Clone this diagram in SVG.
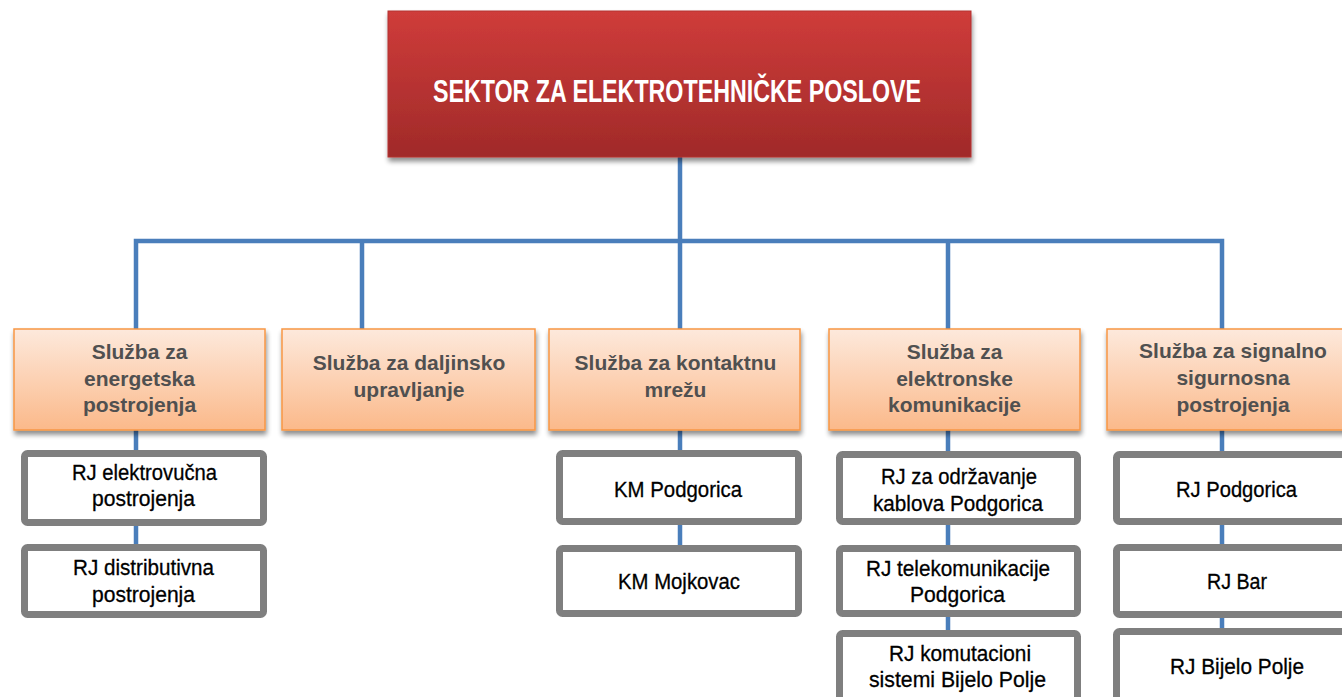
<svg xmlns="http://www.w3.org/2000/svg" width="1342" height="697" viewBox="0 0 1342 697">
<defs>
<linearGradient id="gRed" x1="0" y1="0" x2="0" y2="1">
<stop offset="0" stop-color="#cf3c3a"/>
<stop offset="1" stop-color="#a02a29"/>
</linearGradient>
<linearGradient id="gOr" x1="0" y1="0" x2="0" y2="1">
<stop offset="0" stop-color="#fde9dc"/>
<stop offset="1" stop-color="#fbb98a"/>
</linearGradient>
<filter id="sh" x="-5%" y="-10%" width="112%" height="130%">
<feGaussianBlur in="SourceAlpha" stdDeviation="2.5"/>
<feOffset dx="1" dy="4" result="b"/>
<feComponentTransfer><feFuncA type="linear" slope="0.45"/></feComponentTransfer>
<feMerge><feMergeNode/><feMergeNode in="SourceGraphic"/></feMerge>
</filter>
</defs>
<style>
.con{fill:none;stroke:#4a7ebb;stroke-width:4.5}
.top{fill:url(#gRed);stroke:#b33331;stroke-width:1}
.or{fill:url(#gOr);stroke:#f79646;stroke-width:1.5}
.gr{fill:#ffffff;stroke:#7f7f7f;stroke-width:7}
.tt{font-family:"Liberation Sans",Arial,sans-serif;font-weight:bold;font-size:31px;fill:#ffffff;text-anchor:middle}
.ot{font-family:"Liberation Sans",Arial,sans-serif;font-weight:bold;font-size:21px;fill:#505050;text-anchor:middle}
.gt{font-family:"Liberation Sans",Arial,sans-serif;font-size:22px;fill:#000000;text-anchor:middle;stroke:#000000;stroke-width:0.3}
</style>
<rect width="1342" height="697" fill="#ffffff"/>
<g id="connectors">
<path class="con" d="M680,157 V329 M136,329 V241 H1222 V329 M362,241 V329 M948,241 V329"/>
<path class="con" d="M136,430 V546 M680,430 V548 M948,430 V634 M1222,430 V632"/>
</g>
<g id="sektor">
<rect class="top" x="388" y="11" width="583" height="146" filter="url(#sh)"/>
<text class="tt" x="677" y="102" textLength="488" lengthAdjust="spacingAndGlyphs">SEKTOR ZA ELEKTROTEHNIČKE POSLOVE</text>
</g>
<g id="sluzba-energetska">
<rect class="or" x="14" y="329" width="251" height="101" filter="url(#sh)"/>
<text class="ot" x="139.5" y="358.5">Služba za</text>
<text class="ot" x="139.5" y="385.5">energetska</text>
<text class="ot" x="139.5" y="411.5">postrojenja</text>
</g>
<g id="sluzba-daljinsko">
<rect class="or" x="282" y="329" width="253" height="101" filter="url(#sh)"/>
<text class="ot" x="409" y="369.5">Služba za daljinsko</text>
<text class="ot" x="409" y="396.5">upravljanje</text>
</g>
<g id="sluzba-kontaktna">
<rect class="or" x="549" y="329" width="251" height="101" filter="url(#sh)"/>
<text class="ot" x="675.5" y="369.5">Služba za kontaktnu</text>
<text class="ot" x="675.5" y="396.5">mrežu</text>
</g>
<g id="sluzba-elektronske">
<rect class="or" x="829" y="329" width="251" height="101" filter="url(#sh)"/>
<text class="ot" x="954.5" y="358.5">Služba za</text>
<text class="ot" x="954.5" y="385.5">elektronske</text>
<text class="ot" x="954.5" y="411.5">komunikacije</text>
</g>
<g id="sluzba-signalno">
<rect class="or" x="1107" y="329" width="251" height="101" filter="url(#sh)"/>
<text class="ot" x="1233" y="358">Služba za signalno</text>
<text class="ot" x="1233" y="385">sigurnosna</text>
<text class="ot" x="1233" y="411.5">postrojenja</text>
</g>
<g id="rj-elektrovucna">
<rect class="gr" x="24.5" y="453.5" width="239" height="69" rx="3"/>
<text class="gt" x="144.5" y="480" textLength="145" lengthAdjust="spacingAndGlyphs">RJ elektrovučna</text>
<text class="gt" x="143.5" y="506" textLength="103" lengthAdjust="spacingAndGlyphs">postrojenja</text>
</g>
<g id="rj-distributivna">
<rect class="gr" x="24.5" y="547.5" width="239" height="67" rx="3"/>
<text class="gt" x="143.5" y="575" textLength="141" lengthAdjust="spacingAndGlyphs">RJ distributivna</text>
<text class="gt" x="143.5" y="602" textLength="103" lengthAdjust="spacingAndGlyphs">postrojenja</text>
</g>
<g id="km-podgorica">
<rect class="gr" x="559.5" y="453.5" width="239" height="68" rx="3"/>
<text class="gt" x="678" y="497" textLength="128" lengthAdjust="spacingAndGlyphs">KM Podgorica</text>
</g>
<g id="km-mojkovac">
<rect class="gr" x="559.5" y="548.5" width="239" height="65" rx="3"/>
<text class="gt" x="679" y="589" textLength="122" lengthAdjust="spacingAndGlyphs">KM Mojkovac</text>
</g>
<g id="rj-kablova">
<rect class="gr" x="839.5" y="454.5" width="238" height="67" rx="3"/>
<text class="gt" x="959" y="484" textLength="156" lengthAdjust="spacingAndGlyphs">RJ za održavanje</text>
<text class="gt" x="958" y="511" textLength="170" lengthAdjust="spacingAndGlyphs">kablova Podgorica</text>
</g>
<g id="rj-telekomunikacije">
<rect class="gr" x="839.5" y="548.5" width="238" height="65" rx="3"/>
<text class="gt" x="958" y="576" textLength="184" lengthAdjust="spacingAndGlyphs">RJ telekomunikacije</text>
<text class="gt" x="957.5" y="602" textLength="95" lengthAdjust="spacingAndGlyphs">Podgorica</text>
</g>
<g id="rj-komutacioni">
<rect class="gr" x="839.5" y="633.5" width="238" height="80" rx="3"/>
<text class="gt" x="960" y="661" textLength="142" lengthAdjust="spacingAndGlyphs">RJ komutacioni</text>
<text class="gt" x="957.5" y="687" textLength="177" lengthAdjust="spacingAndGlyphs">sistemi Bijelo Polje</text>
</g>
<g id="rj-podgorica">
<rect class="gr" x="1116.5" y="454.5" width="239" height="67" rx="3"/>
<text class="gt" x="1236.5" y="497" textLength="121" lengthAdjust="spacingAndGlyphs">RJ Podgorica</text>
</g>
<g id="rj-bar">
<rect class="gr" x="1116.5" y="547.5" width="239" height="67" rx="3"/>
<text class="gt" x="1237" y="589" textLength="60" lengthAdjust="spacingAndGlyphs">RJ Bar</text>
</g>
<g id="rj-bijelo-polje">
<rect class="gr" x="1116.5" y="631.5" width="239" height="80" rx="3"/>
<text class="gt" x="1237" y="674" textLength="134" lengthAdjust="spacingAndGlyphs">RJ Bijelo Polje</text>
</g>
</svg>
